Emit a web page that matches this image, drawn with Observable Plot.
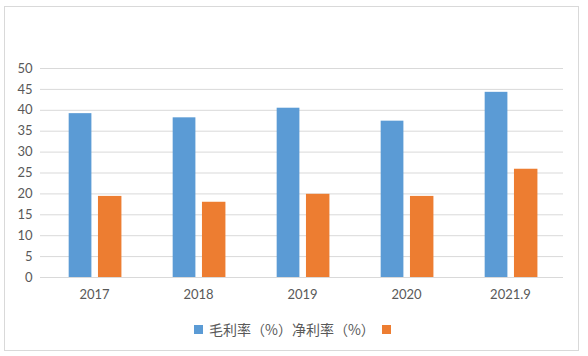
<!DOCTYPE html>
<html>
<head>
<meta charset="utf-8">
<script src="https://cdn.jsdelivr.net/npm/d3@7"></script>
<script src="https://cdn.jsdelivr.net/npm/@observablehq/plot@0.6"></script>
<style>
  html, body { margin: 0; padding: 0; background: #fff; }
  #wrap { position: relative; width: 588px; height: 356px; overflow: hidden; font-family: Lato, "Noto Sans CJK SC", sans-serif; }
  #frame { position: absolute; left: 4px; top: 6px; width: 575px; height: 345px; border: 1px solid #d9d9d9; box-sizing: border-box; pointer-events: none; }
  #chart { position: absolute; left: 0; top: 0; }
  #legend { position: absolute; left: 0; width: 588px; top: 319px; text-align: left; font-size: 14px; color: #595959; font-family: "Noto Sans CJK SC", sans-serif; }
  #legend .inner { position: absolute; left: 194px; top: 0; display: flex; align-items: center; white-space: nowrap; height: 20px; }
  .sw { display: inline-block; width: 9px; height: 9px; }
</style>
</head>
<body>
<div id="wrap">
  <div id="chart"></div>
  <div id="legend"></div>
  <div id="frame"></div>
</div>
<script>
const categories = ["2017", "2018", "2019", "2020", "2021.9"];
const grossMargin = [39.2, 38.2, 40.5, 37.4, 44.3];
const netMargin = [19.4, 18.0, 19.9, 19.4, 25.9];
const seriesNames = ["毛利率（%）", "净利率（%）"];
const seriesColors = ["#5b9bd5", "#ed7d31"];
const yTicks = [0, 5, 10, 15, 20, 25, 30, 35, 40, 45, 50];

const rowsGross = categories.map((c, i) => ({category: c, value: grossMargin[i]}));
const rowsNet = categories.map((c, i) => ({category: c, value: netMargin[i]}));

const W = 588, H = 310, ml = 40, mr = 25;
const bw = (W - ml - mr) / categories.length;

const chart = Plot.plot({
  width: W,
  height: H,
  marginTop: 68,
  marginBottom: 33,
  marginLeft: ml,
  marginRight: mr,
  style: {fontFamily: "Lato, 'Noto Sans CJK SC', sans-serif", fontSize: "13px", color: "#595959", background: "transparent"},
  x: {domain: categories, padding: 0, label: null},
  y: {domain: [0, 50], label: null},
  marks: [
    Plot.ruleY(yTicks, {stroke: "#d9d9d9", strokeWidth: 1}),
    Plot.barY(rowsGross, {x: "category", y: "value", fill: seriesColors[0], insetLeft: bw * 0.255, insetRight: bw * 0.522}),
    Plot.barY(rowsNet, {x: "category", y: "value", fill: seriesColors[1], insetLeft: bw * 0.535, insetRight: bw * 0.235}),
    Plot.axisY({ticks: yTicks, tickSize: 0, tickPadding: 8, label: null, fill: "#595959", fontSize: 13}),
    Plot.axisX({tickSize: 0, tickPadding: 12, label: null, fill: "#595959", fontSize: 13})
  ]
});
document.getElementById("chart").appendChild(chart);

const legend = document.getElementById("legend");
const inner = document.createElement("div");
inner.className = "inner";
const sw1 = document.createElement("span");
sw1.className = "sw"; sw1.style.background = seriesColors[0]; sw1.style.marginRight = "6px";
const txt = document.createElement("span");
txt.textContent = seriesNames[0] + seriesNames[1];
const sw2 = document.createElement("span");
sw2.className = "sw"; sw2.style.background = seriesColors[1]; sw2.style.marginLeft = "7px";
inner.append(sw1, txt, sw2);
legend.appendChild(inner);
</script>
</body>
</html>
